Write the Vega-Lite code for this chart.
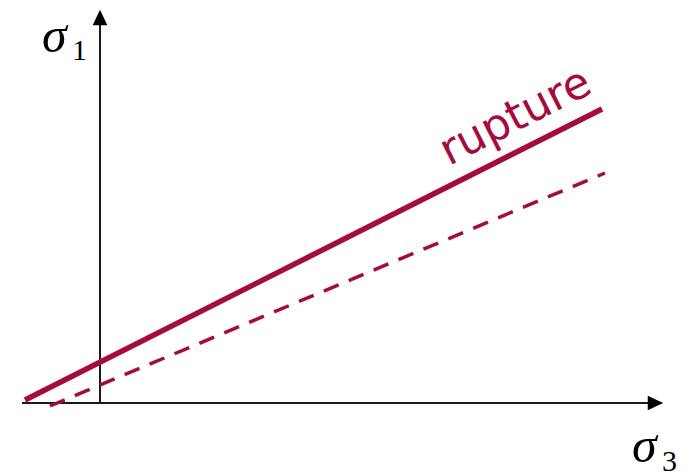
{
  "$schema": "https://vega.github.io/schema/vega-lite/v6.json",
  "width": 688,
  "height": 472,
  "padding": 0,
  "autosize": {"type": "none"},
  "background": "white",
  "config": {"view": {"stroke": null}},
  "layer": [
    {
      "data": {"values": [{"x": -1.56, "y": 0, "x2": 11.12, "y2": 0}, {"x": 0, "y": 0, "x2": 0, "y2": 7.72}]},
      "mark": {"type": "rule", "stroke": "#1a1a1a", "strokeWidth": 2},
      "encoding": {
        "x": {"field": "x", "type": "quantitative", "scale": {"domain": [-2, 11.76], "nice": false, "zero": false}, "axis": null},
        "y": {"field": "y", "type": "quantitative", "scale": {"domain": [-1.38, 8.06], "nice": false, "zero": false}, "axis": null},
        "x2": {"field": "x2"},
        "y2": {"field": "y2"}
      }
    },
    {
      "data": {"values": [{"x": 11.11, "y": 0}]},
      "mark": {"type": "point", "shape": "M1,0L-1,-0.95L-1,0.95Z", "filled": true, "color": "#000000", "opacity": 1, "size": 240},
      "encoding": {
        "x": {"field": "x", "type": "quantitative"},
        "y": {"field": "y", "type": "quantitative"}
      }
    },
    {
      "data": {"values": [{"x": 0, "y": 7.71}]},
      "mark": {"type": "point", "shape": "M0,-1L-0.95,1L0.95,1Z", "filled": true, "color": "#000000", "opacity": 1, "size": 240},
      "encoding": {
        "x": {"field": "x", "type": "quantitative"},
        "y": {"field": "y", "type": "quantitative"}
      }
    },
    {
      "data": {"values": [{"x": -1.5, "y": 0.06}, {"x": 10.04, "y": 5.88}]},
      "mark": {"type": "line", "color": "#A50C3E", "strokeWidth": 5.5, "strokeCap": "butt"},
      "encoding": {
        "x": {"field": "x", "type": "quantitative"},
        "y": {"field": "y", "type": "quantitative"}
      }
    },
    {
      "data": {"values": [{"x": -1.0, "y": -0.06}, {"x": 10.1, "y": 4.6}]},
      "mark": {"type": "line", "color": "#A50C3E", "strokeWidth": 3.5, "strokeDash": [16, 11], "strokeCap": "butt"},
      "encoding": {
        "x": {"field": "x", "type": "quantitative"},
        "y": {"field": "y", "type": "quantitative"}
      }
    },
    {
      "data": {"values": [{"x": 6.98, "y": 4.74, "label": "rupture"}]},
      "mark": {"type": "text", "align": "left", "baseline": "alphabetic", "angle": 333, "font": "DejaVu Sans", "fontSize": 44, "color": "#A50C3E"},
      "encoding": {
        "x": {"field": "x", "type": "quantitative"},
        "y": {"field": "y", "type": "quantitative"},
        "text": {"field": "label"}
      }
    },
    {
      "data": {"values": [{"x": -1.16, "y": 7.02, "label": "σ"}, {"x": 10.64, "y": -1.18, "label": "σ"}]},
      "mark": {"type": "text", "align": "left", "baseline": "alphabetic", "font": "Liberation Serif", "fontStyle": "italic", "fontSize": 50, "color": "#000000"},
      "encoding": {
        "x": {"field": "x", "type": "quantitative"},
        "y": {"field": "y", "type": "quantitative"},
        "text": {"field": "label"}
      }
    },
    {
      "data": {"values": [{"x": -0.56, "y": 6.86, "label": "1"}, {"x": 11.24, "y": -1.36, "label": "3"}]},
      "mark": {"type": "text", "align": "left", "baseline": "alphabetic", "font": "Liberation Serif", "fontSize": 30, "color": "#000000"},
      "encoding": {
        "x": {"field": "x", "type": "quantitative"},
        "y": {"field": "y", "type": "quantitative"},
        "text": {"field": "label"}
      }
    }
  ]
}
